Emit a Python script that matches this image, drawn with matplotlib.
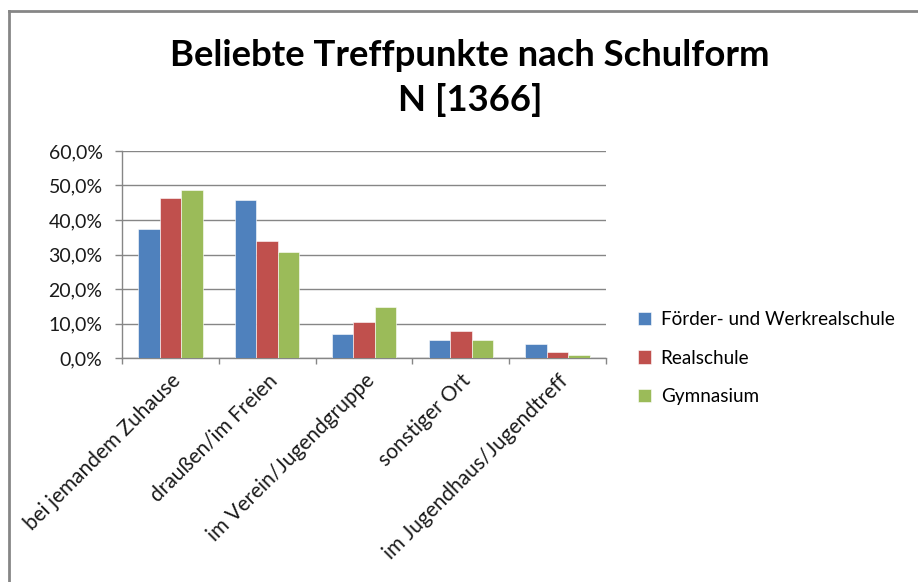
import matplotlib
matplotlib.use("Agg")
import matplotlib.pyplot as plt
import numpy as np
from matplotlib.ticker import FuncFormatter, FixedLocator
from matplotlib.lines import Line2D

categories = ["bei jemandem Zuhause", "draußen/im Freien", "im Verein/Jugendgruppe",
              "sonstiger Ort", "im Jugendhaus/Jugendtreff"]
series_names = ["Förder- und Werkrealschule", "Realschule", "Gymnasium"]
foerder = [37.4, 45.9, 7.1, 5.3, 4.1]
real = [46.5, 33.8, 10.4, 7.7, 1.6]
gym = [48.6, 30.7, 14.7, 5.3, 1.0]
colors = ["#4F81BD", "#C0504D", "#9BBB59"]
yticks = [0, 10, 20, 30, 40, 50, 60]

plt.rcParams['font.family'] = ['Lato', 'DejaVu Sans']

fig = plt.figure(figsize=(9.18, 5.82), dpi=100)
ax = fig.add_axes([122/918, 1-358/582, (606-122)/918, (358-151)/582])

x = np.arange(len(categories))
w = 1/4.5
for i, (vals, name, c) in enumerate(zip([foerder, real, gym], series_names, colors)):
    ax.bar(x + (i-1)*w, vals, width=w, color=c, label=name, edgecolor='white', linewidth=0.4, zorder=3)

ax.set_xlim(-0.5, len(categories)-0.5)
ax.set_ylim(0, 60)
ax.set_yticks(yticks)
ax.yaxis.set_major_formatter(FuncFormatter(lambda v, p: f"{v:.1f}".replace('.', ',') + "%"))
ax.yaxis.grid(True, color='#868686', linewidth=1, zorder=0)
ax.set_axisbelow(True)

ax.set_xticks(x)
ax.set_xticklabels(categories, rotation=45, ha='right', rotation_mode='anchor', fontsize=15, color='#1a1a1a')
ax.tick_params(axis='x', which='major', length=0, pad=9)
ax.xaxis.set_minor_locator(FixedLocator(np.arange(-0.5, len(categories), 1.0)))
ax.tick_params(axis='x', which='minor', length=4, color='#868686', width=1, direction='out')
ax.tick_params(axis='y', length=5, color='#868686', width=1, direction='out', labelsize=14, labelcolor='#1a1a1a', pad=9)

for s in ['top', 'right']:
    ax.spines[s].set_visible(False)
for s in ['left', 'bottom']:
    ax.spines[s].set_color('#868686')
    ax.spines[s].set_linewidth(1)

fig.text(470/918, 1-55/582, "Beliebte Treffpunkte nach Schulform", ha='center', va='center',
         fontsize=26.3, fontweight='bold')
fig.text(470/918, 1-100/582, "N [1366]", ha='center', va='center', fontsize=26.3, fontweight='bold')

leg = fig.legend(loc='center left', bbox_to_anchor=(621/918, 1-358/582), frameon=False,
                 fontsize=13.6, handlelength=0.7, handleheight=0.7, handletextpad=0.5, labelspacing=1.15)

# chart border (left and top edges visible)
fig.add_artist(Line2D([9/918, 9/918], [0, 1-11/582], transform=fig.transFigure, color='#868686', linewidth=2))
fig.add_artist(Line2D([9/918, 1], [1-11/582, 1-11/582], transform=fig.transFigure, color='#868686', linewidth=2))

fig.savefig("out.png", dpi=100)
